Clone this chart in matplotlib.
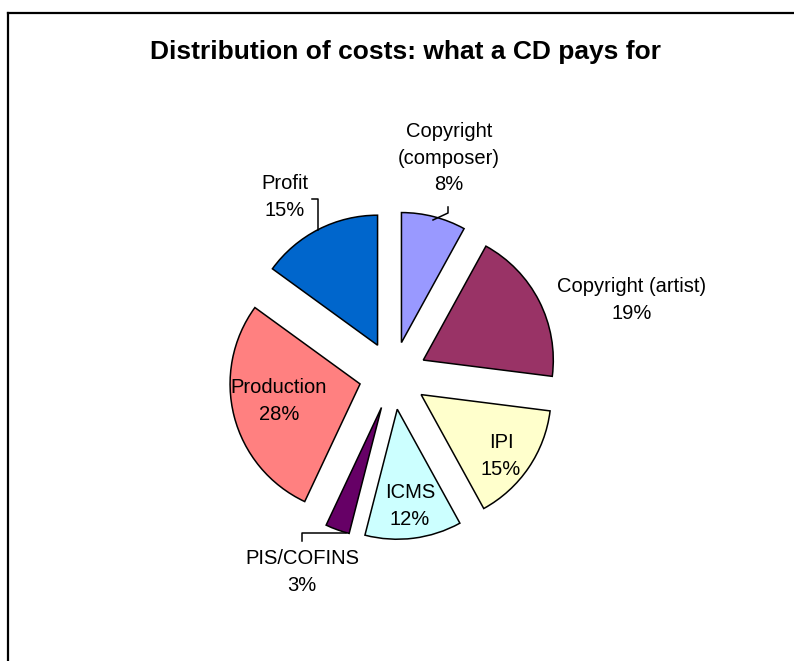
import numpy as np
import matplotlib
matplotlib.use("Agg")
from matplotlib import pyplot as plt
from matplotlib.lines import Line2D

plt.rcParams["font.family"] = ["Liberation Sans", "DejaVu Sans"]

# data
names = ["Copyright\n(composer)", "Copyright (artist)", "IPI", "ICMS",
         "PIS/COFINS", "Production", "Profit"]
shares = [8, 19, 15, 12, 3, 28, 15]
colors = ["#9999FF", "#993366", "#FFFFCC", "#CCFFFF", "#660066", "#FF8080", "#0066CC"]

W, H = 794, 661
fig = plt.figure(figsize=(W / 100, H / 100), dpi=100)
ax = fig.add_axes([0, 0, 1, 1])

# pixel coords, y flipped so the pie still runs clockwise from 12 o'clock
cx, cy = 393, H - 375.5
R = 130

# explode is in data units here (pixels), not a fraction of R
wedges, _ = ax.pie(shares, colors=colors, startangle=90, counterclock=False,
                   explode=[34] * len(shares), center=(cx, cy), radius=R,
                   wedgeprops=dict(edgecolor="black", linewidth=1.1))
ax.set_xlim(0, W)
ax.set_ylim(0, H)
ax.set_aspect("auto")
ax.axis("off")

def y(v):
    return H - v

# label spots (pixel, from top) - dragged around by hand in the original
label_pos = [(449, 158), (632, 300), (501, 456), (410, 506),
             (302, 572), (279, 401), (285, 197)]

for name, val, (lx, ly) in zip(names, shares, label_pos):
    ax.text(lx, y(ly), "%s\n%d%%" % (name, val), ha="center", va="center",
            fontsize=14.5, linespacing=1.5, color="black")

# leader lines
lead = dict(color="black", lw=1.1)
ax.plot([312, 318, 318], [y(199), y(199), y(230)], **lead)      # profit
ax.plot([448, 448, 433], [y(207), y(213), y(220)], **lead)      # composer
ax.plot([302, 302, 346], [y(541), y(533), y(533)], **lead)      # pis/cofins

ax.text(406, y(52), "Distribution of costs: what a CD pays for", ha="center",
        va="center", fontsize=19, fontweight="bold")

# chart frame, only left and top show in the crop
fig.add_artist(Line2D([7.5 / W, 7.5 / W], [0, 1 - 12.5 / H], color="black", lw=1.6,
                      transform=fig.transFigure))
fig.add_artist(Line2D([7.5 / W, 1], [1 - 12.5 / H, 1 - 12.5 / H], color="black", lw=1.6,
                      transform=fig.transFigure))

fig.savefig("out.png", dpi=100, facecolor="white")
